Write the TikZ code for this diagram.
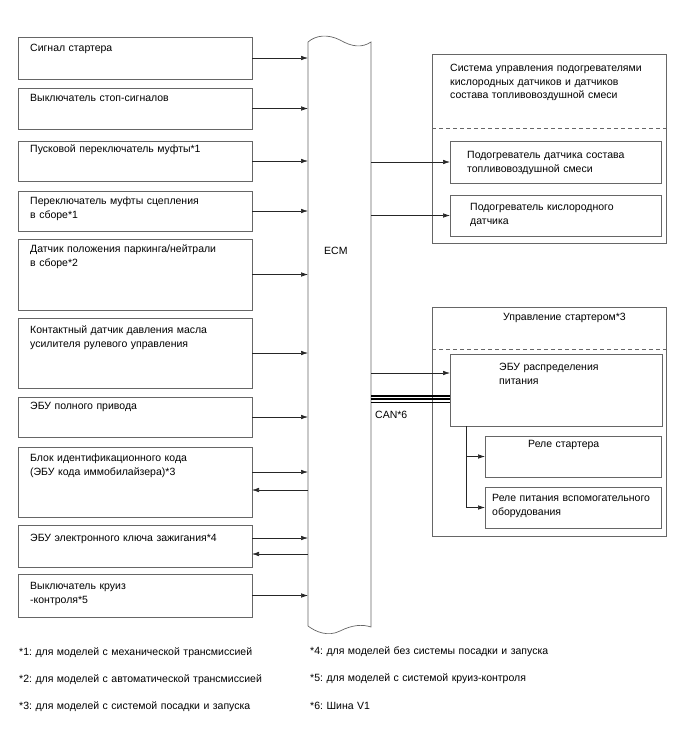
\documentclass[tikz,border=0pt]{standalone}
\usepackage{fontspec}
\setmainfont{Liberation Sans}
\usetikzlibrary{arrows.meta}
\definecolor{boxline}{gray}{0.40}
\definecolor{arrline}{gray}{0.15}
\frenchspacing
\begin{document}
\begin{tikzpicture}[x=1pt,y=-1pt,
  box/.style={draw=boxline, line width=0.7pt, inner sep=0pt, outer sep=0pt, anchor=north west},
  txt/.style={anchor=base west, inner sep=0pt, text width=300pt, align=left,
              font=\fontsize{10.5}{13.5}\selectfont},
  arr/.style={draw=arrline, line width=0.6pt, -{Latex[length=7pt,width=4.5pt]}},
  sepline/.style={draw=boxline, line width=0.7pt, dash pattern=on 4pt off 3pt},
  canline/.style={draw=black, line width=1.3pt}]
\path[use as bounding box] (0,0) rectangle (688,755);

% ECM
\node[inner sep=0pt, outer sep=0pt, anchor=north west, minimum width=63pt, minimum height=584pt] (ecm) at (308,42) {};
\draw[boxline, line width=0.7pt] (308,626) -- (308,42)
  .. controls (316,35) and (328,34) .. (340,40)
  .. controls (352,47) and (362,48) .. (371,42)
  -- (371,627)
  .. controls (362,624) and (352,625) .. (340,631)
  .. controls (328,637) and (316,632) .. (308,626);
\node[txt] (ecmlabel) at (324,254) {ECM};

% left boxes
\node[box, minimum width=234pt, minimum height=42pt] (b1) at (18,37) {};
\node[txt] (t1) at (30,51.5) {Сигнал стартера};
\node[box, minimum width=234pt, minimum height=41pt] (b2) at (18,88) {};
\node[txt] (t2) at (30,101.5) {Выключатель стоп-сигналов};
\node[box, minimum width=234pt, minimum height=40pt] (b3) at (18,141) {};
\node[txt] (t3) at (30,152.5) {Пусковой переключатель муфты*1};
\node[box, minimum width=234pt, minimum height=40pt] (b4) at (18,191) {};
\node[txt] (t4) at (30,204.5) {Переключатель муфты сцепления\\в сборе*1};
\node[box, minimum width=234pt, minimum height=71pt] (b5) at (18,239) {};
\node[txt] (t5) at (30,252.5) {Датчик положения паркинга/нейтрали\\в сборе*2};
\node[box, minimum width=234pt, minimum height=70pt] (b6) at (18,318) {};
\node[txt] (t6) at (30,333.5) {Контактный датчик давления масла\\усилителя рулевого управления};
\node[box, minimum width=234pt, minimum height=40pt] (b7) at (18,397) {};
\node[txt] (t7) at (30,409) {ЭБУ полного привода};
\node[box, minimum width=234pt, minimum height=70pt] (b8) at (18,447) {};
\node[txt] (t8) at (30,461.5) {Блок идентификационного кода\\(ЭБУ кода иммобилайзера)*3};
\node[box, minimum width=234pt, minimum height=42pt] (b9) at (18,525) {};
\node[txt] (t9) at (30,541) {ЭБУ электронного ключа зажигания*4};
\node[box, minimum width=234pt, minimum height=43pt] (b10) at (18,574) {};
\node[txt] (t10) at (30,589.5) {Выключатель круиз\\-контроля*5};

% left arrows
\foreach \b in {b1,b2,b3,b4,b5,b6,b7,b10}
  \draw[arr] (\b.east) -- (\b.east -| ecm.west);
\draw[arr] ([yshift=10pt]b8.east) -- ([yshift=10pt]b8.east -| ecm.west);
\draw[arr] ([yshift=-8pt]b8.east -| ecm.west) -- ([yshift=-8pt]b8.east);
\draw[arr] ([yshift=8pt]b9.east) -- ([yshift=8pt]b9.east -| ecm.west);
\draw[arr] ([yshift=-8pt]b9.east -| ecm.west) -- ([yshift=-8pt]b9.east);

% heater system
\node[box, minimum width=234pt, minimum height=189pt] (sys) at (432,54) {};
\node[txt] (tsys) at (450,71.5) {Система управления подогревателями\\кислородных датчиков и датчиков\\состава топливовоздушной смеси};
\draw[sepline] (sys.west |- 0,128) -- (sys.east |- 0,128);
\node[box, minimum width=211pt, minimum height=42pt] (ha) at (450,141) {};
\node[txt] (tha) at (467,158.5) {Подогреватель датчика состава\\топливовоздушной смеси};
\node[box, minimum width=211pt, minimum height=41pt] (hb) at (450,195) {};
\node[txt] (thb) at (470,210.5) {Подогреватель кислородного\\датчика};
\draw[arr] (ha.west -| ecm.east) -- (ha.west);
\draw[arr] (hb.west -| ecm.east) -- (hb.west);

% starter control
\node[box, minimum width=234pt, minimum height=229pt] (st) at (432,307) {};
\node[txt] (tst) at (503,320.5) {Управление стартером*3};
\draw[sepline] (st.west |- 0,349) -- (st.east |- 0,349);
\node[box, minimum width=212pt, minimum height=72pt] (ebu) at (450,354) {};
\node[txt] (tebu) at (499,370.5) {ЭБУ распределения\\питания};
\node[box, minimum width=176pt, minimum height=41pt] (r1) at (485,436) {};
\node[txt] (tr1) at (528,447.5) {Реле стартера};
\node[box, minimum width=176pt, minimum height=41pt] (r2) at (485,487) {};
\node[txt] (tr2) at (492,501.5) {Реле питания вспомогательного\\оборудования};

\draw[arr] ([yshift=17pt]ebu.west -| ecm.east) -- ([yshift=17pt]ebu.west);
\draw[canline] ([yshift=-6pt]ebu.west -| ecm.east) -- ([yshift=-6pt]ebu.west);
\draw[canline] ([yshift=-9pt]ebu.west -| ecm.east) -- ([yshift=-9pt]ebu.west);
\draw[draw=black, line width=0.8pt] ([yshift=-12.5pt]ebu.west -| ecm.east) -- ([yshift=-12.5pt]ebu.west);
\node[txt] (can) at (375,418.5) {CAN*6};

\coordinate (br) at ([xshift=16pt]ebu.south west);
\draw[arr] (br) |- (r1.west);
\draw[arr] (br) |- (r2.west);

% footnotes
\node[txt] (f1) at (19,655.5) {*1: для моделей с механической трансмиссией};
\node[txt] (f2) at (19,682.5) {*2: для моделей с автоматической трансмиссией};
\node[txt] (f3) at (19,709.5) {*3: для моделей с системой посадки и запуска};
\node[txt] (f4) at (310,654.5) {*4: для моделей без системы посадки и запуска};
\node[txt] (f5) at (310,681.5) {*5: для моделей с системой круиз-контроля};
\node[txt] (f6) at (310,709.5) {*6: Шина V1};
\end{tikzpicture}
\end{document}
